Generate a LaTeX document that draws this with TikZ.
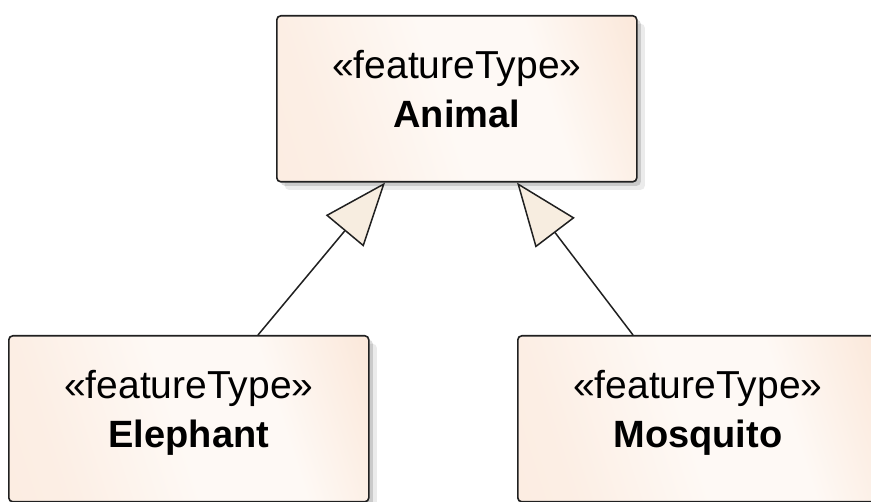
\documentclass[tikz,border=0pt]{standalone}
\usepackage{fontspec}
\setmainfont{Liberation Sans}
\usetikzlibrary{arrows.meta,shadows,calc}

\definecolor{peachA}{RGB}{251,233,220}
\definecolor{peachB}{RGB}{254,249,245}
\definecolor{peachC}{RGB}{246,219,200}
\definecolor{tipfill}{RGB}{247,237,224}
\definecolor{edge}{RGB}{32,32,32}

% soft peach fill with a pale diagonal band, as in EA class boxes
\pgfdeclarehorizontalshading{classfill}{100bp}{%
  color(0bp)=(peachA); color(28bp)=(peachA!75!white); color(48bp)=(peachB);
  color(64bp)=(peachB); color(80bp)=(peachA); color(100bp)=(peachC)}

\begin{document}
\begin{tikzpicture}[x=1pt,y=-1pt,
  classbox/.style={draw=edge, line width=1.6pt, rounded corners=4pt,
    minimum width=360pt, minimum height=166pt, inner sep=0pt,
    shade, shading=classfill, shading angle=18,
    drop shadow={shadow xshift=4pt, shadow yshift=-4pt, opacity=0.14, fill=black},
    drop shadow={shadow xshift=8pt, shadow yshift=-8pt, opacity=0.08, fill=black}},
  stereo/.style={anchor=base, inner sep=0pt, text=black,
    font=\fontsize{39}{44}\selectfont},
  cname/.style={anchor=base, inner sep=0pt, text=black,
    font=\fontsize{38}{44}\selectfont\bfseries},
  genline/.style={draw=edge, line width=1.5pt,
    -{Triangle[length=63pt, width=49pt, fill=tipfill, line join=miter]}}]

\useasboundingbox (0,0) rectangle (871,502);

% class boxes
\node[classbox, anchor=north west] (animal) at (276,15) {};
\node[classbox, anchor=north west] (eleph)  at (8,335)  {};
\node[classbox, anchor=north west] (mosq)   at (517,335) {};

% stereotypes and class names
\node[stereo] (animal-s) at ([yshift=-64pt]animal.north) {«featureType»};
\node[cname]  (animal-n) at ([yshift=-113pt]animal.north) {Animal};
\node[stereo] (eleph-s)  at ([yshift=-64pt]eleph.north) {«featureType»};
\node[cname]  (eleph-n)  at ([yshift=-113pt]eleph.north) {Elephant};
\node[stereo] (mosq-s)   at ([yshift=-64pt]mosq.north) {«featureType»};
\node[cname]  (mosq-n)   at ([yshift=-113pt]mosq.north) {Mosquito};

% generalisations
\draw[genline] ($(eleph.north west)+(250,0)$) -- ($(animal.south west)+(109,0)$);
\draw[genline] ($(mosq.north west)+(116,0)$) -- ($(animal.south west)+(241,0)$);

\end{tikzpicture}
\end{document}
